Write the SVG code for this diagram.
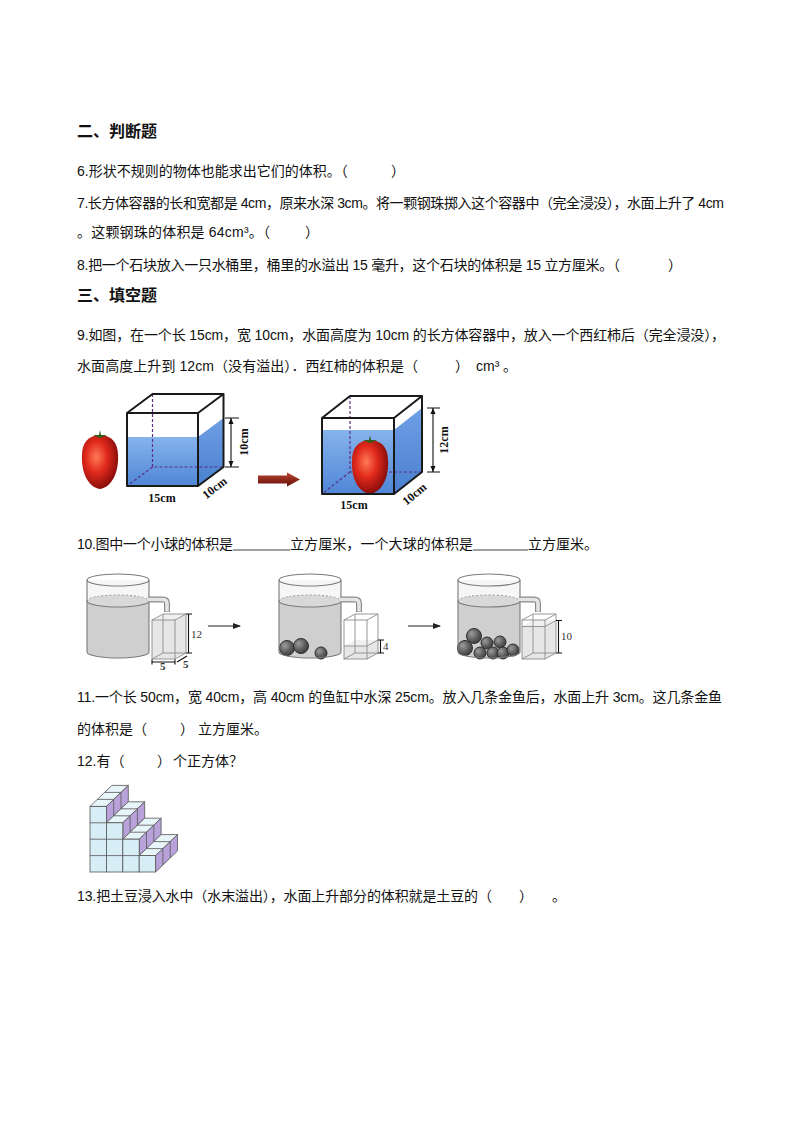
<svg xmlns="http://www.w3.org/2000/svg" width="794" height="1123" viewBox="0 0 794 1123">
<style>
.t{font-family:"Liberation Sans","Noto Sans CJK SC",sans-serif;font-size:14px;fill:#111}
.h{font-family:"Liberation Sans","Noto Sans CJK SC",sans-serif;font-size:16px;font-weight:bold;fill:#111}
.lbl{font-family:"Liberation Serif",serif;font-weight:bold;font-size:12px;fill:#111}
.box{fill:none;stroke:#1a1a1a;stroke-width:2;stroke-linejoin:round}
.hid{fill:none;stroke:#5b2f80;stroke-width:1.2;stroke-dasharray:3 2}
.dim{stroke:#111;stroke-width:1.1;fill:none}
.cyl{stroke:#7a7a7a;stroke-width:1.1;fill:none}
.cyld{stroke:#9a9a9a;stroke-width:1;fill:none;stroke-dasharray:2 2}
.ball{fill:url(#ballg);stroke:#2e2e2e;stroke-width:1}
.cb{stroke:#8c8c8c;stroke-width:0.9;fill:none}
.cw{fill:#e6e6e6;stroke:none}
.n{font-family:"Liberation Serif",serif;font-size:11px;fill:#333}
.fr{fill:#d8eef6;stroke:#555;stroke-width:0.8}
.tp{fill:#e8f5f9;stroke:#555;stroke-width:0.8}
.sd{fill:#b9a2d9;stroke:#555;stroke-width:0.8}
.ln{stroke:#555;stroke-width:0.8;fill:none}
.ul{stroke:#808080;stroke-width:1.5}
.pipeo{fill:none;stroke:#8a8a8a;stroke-width:6}
.pipei{fill:none;stroke:#e4e4e4;stroke-width:3.6}
</style>
<defs>
<linearGradient id="wat" x1="0" y1="0" x2="0" y2="1"><stop offset="0" stop-color="#86b3ec"/><stop offset="1" stop-color="#4f86d6"/></linearGradient>
<linearGradient id="wats" x1="0" y1="0" x2="0" y2="1"><stop offset="0" stop-color="#6f9fe4"/><stop offset="1" stop-color="#4a80d0"/></linearGradient>
<radialGradient id="tom" cx="0.4" cy="0.4" r="0.65"><stop offset="0" stop-color="#ff7a55"/><stop offset="0.45" stop-color="#e12a1c"/><stop offset="1" stop-color="#7e0a08"/></radialGradient>
<linearGradient id="arr" x1="0" y1="0" x2="0" y2="1"><stop offset="0" stop-color="#b8452f"/><stop offset="1" stop-color="#650d08"/></linearGradient>
<radialGradient id="ballg" cx="0.35" cy="0.35" r="0.7"><stop offset="0" stop-color="#9c9c9c"/><stop offset="0.6" stop-color="#5e5e5e"/><stop offset="1" stop-color="#3e3e3e"/></radialGradient>
<marker id="ah" viewBox="0 0 8 6" refX="7" refY="3" markerWidth="8" markerHeight="6" markerUnits="userSpaceOnUse" orient="auto"><path d="M0,0 L8,3 L0,6 Z" fill="#222"/></marker>
</defs>
<rect width="794" height="1123" fill="#fff"/>

<g id="heading-2"><text class="h" x="77" y="136.5">二、判断题</text></g>
<g id="q6"><text class="t" x="77" y="175.5">6.形状不规则的物体也能求出它们的体积。（</text><text class="t" x="391" y="175.5">）</text></g>
<g id="q7"><text class="t" x="77" y="207.5" textLength="647" lengthAdjust="spacing">7.长方体容器的长和宽都是 4cm，原来水深 3cm。将一颗钢珠掷入这个容器中（完全浸没），水面上升了 4cm</text>
<text class="t" x="77" y="236.5" textLength="193" lengthAdjust="spacing">。这颗钢珠的体积是 64cm³。（</text><text class="t" x="305" y="236.5">）</text></g>
<g id="q8"><text class="t" x="77" y="269.5" textLength="543" lengthAdjust="spacing">8.把一个石块放入一只水桶里，桶里的水溢出 15 毫升，这个石块的体积是 15 立方厘米。（</text><text class="t" x="668" y="269.5">）</text></g>
<g id="heading-3"><text class="h" x="77" y="301">三、填空题</text></g>
<g id="q9"><text class="t" x="77" y="339.5" textLength="648" lengthAdjust="spacing">9.如图，在一个长 15cm，宽 10cm，水面高度为 10cm 的长方体容器中，放入一个西红柿后（完全浸没），</text>
<text class="t" x="77" y="370.5" textLength="341" lengthAdjust="spacing">水面高度上升到 12cm（没有溢出）．西红柿的体积是（</text><text class="t" x="455" y="370.5">）</text><text class="t" x="476" y="370.5">cm³</text><text class="t" x="503" y="370.5">。</text></g>

<g id="fig9">
 <g id="fig9-tomato">
  <path d="M100,436 C110,434 118,442 118,455 C119,470 113,487 100,489 C87,487 81,470 82,455 C82,442 90,434 100,436 Z" fill="url(#tom)"/>
  <path d="M100,438 l-7,-3 l6,0 l1,-5 l1,5 l6,0 z" fill="#2f5d1a"/>
 </g>
 <g id="fig9-box-before">
  <rect x="127" y="437" width="71" height="49" fill="url(#wat)"/>
  <path d="M198,437 L223.5,418 L223.5,467 L198,486 Z" fill="url(#wats)"/>
  <path class="hid" d="M152.5,394 V467 H223.5 M152.5,467 L127,486"/>
  <rect class="box" x="127" y="413" width="71" height="73"/>
  <path class="box" d="M127,413 L152.5,394 H223.5 L198,413 M223.5,394 V467 L198,486"/>
  <path class="dim" d="M231,418 V467 M225,418 H239 M225,467 H239"/>
  <path d="M231,418 l-2.5,6 h5 z M231,467 l-2.5,-6 h5 z" fill="#111"/>
  <text class="lbl" transform="translate(248,442) rotate(-90)" text-anchor="middle">10cm</text>
  <text class="lbl" x="162" y="502" text-anchor="middle">15cm</text>
  <text class="lbl" transform="translate(217,491) rotate(-38)" text-anchor="middle">10cm</text>
 </g>
 <g id="fig9-arrow"><path d="M258,475.5 H287 V472.5 L300,479.5 L287,486.5 V483.5 H258 Z" fill="url(#arr)"/></g>
 <g id="fig9-box-after">
  <rect x="322" y="430" width="72" height="64" fill="url(#wat)"/>
  <path d="M394,430 L422,408 L422,472 L394,494 Z" fill="url(#wats)"/>
  <path class="hid" d="M350,396 V472 H422 M350,472 L322,494"/>
  <path d="M370,441 C380,439 388,447 388,460 C389,476 383,492 370,494 C357,492 351,476 352,460 C352,447 360,439 370,441 Z" fill="url(#tom)"/>
  <path d="M370,443 l-7,-3 l6,0 l1,-5 l1,5 l6,0 z" fill="#2f5d1a"/>
  <rect class="box" x="322" y="418" width="72" height="76"/>
  <path class="box" d="M322,418 L350,396 H422 L394,418 M422,396 V472 L394,494"/>
  <path class="dim" d="M433,408 V472 M427,408 H440 M427,472 H440"/>
  <path d="M433,408 l-2.5,6 h5 z M433,472 l-2.5,-6 h5 z" fill="#111"/>
  <text class="lbl" transform="translate(448,440) rotate(-90)" text-anchor="middle">12cm</text>
  <text class="lbl" x="354" y="509" text-anchor="middle">15cm</text>
  <text class="lbl" transform="translate(417,497) rotate(-40)" text-anchor="middle">10cm</text>
 </g>
</g>

<g id="q10">
 <text class="t" x="77" y="548.5" textLength="156" lengthAdjust="spacing">10.图中一个小球的体积是</text>
 <line class="ul" x1="233" y1="550" x2="290" y2="550"/>
 <text class="t" x="290" y="548.5" textLength="183" lengthAdjust="spacing">立方厘米，一个大球的体积是</text>
 <line class="ul" x1="473" y1="550" x2="528" y2="550"/>
 <text class="t" x="528" y="548.5">立方厘米。</text>
</g>

<g id="fig10">
 <g id="fig10-cyl1">
  <path d="M87,580 V652 A31,6 0 0 0 149,652 V580 Z" fill="#f6f6f6"/>
  <path d="M87,601 A31,6 0 0 0 149,601 V652 A31,6 0 0 1 87,652 Z" fill="#cfcfcf"/>
  <ellipse cx="118" cy="601" rx="31" ry="6" fill="#d8d8d8"/>
  <path class="cyld" d="M87,601 A31,6 0 0 1 149,601"/>
  <path class="cyl" d="M87,601 A31,6 0 0 0 149,601" stroke="#a0a0a0"/>
  <ellipse class="cyl" cx="118" cy="580" rx="31" ry="6"/>
  <path class="cyl" d="M87,580 V652 A31,6 0 0 0 149,652 V580"/>
  <path class="pipeo" d="M148,599.5 H163 Q167,599.5 167,603.5 V612"/>
  <path class="pipei" d="M148,599.5 H163 Q167,599.5 167,603.5 V611.5"/>
 </g>
 <g id="fig10-box1">
  <path class="cw" d="M152,620 L163,614 H186 V653 L175,659 H152 Z"/>
  <path d="M152,620 L163,614 H186 L175,620 Z" fill="#f0f0f0"/>
  <path class="cb" d="M163,614 V653 H186 M163,653 L152,659"/>
  <rect class="cb" x="152" y="620" width="23" height="39"/>
  <path class="cb" d="M152,620 L163,614 H186 L175,620 M186,614 V653 L175,659"/>
  <path class="dim" d="M188.5,614 V653 M186,614 H192 M186,653 H192" stroke="#444" stroke-width="0.8"/>
  <text class="n" x="191" y="637.5">12</text>
  <path class="dim" d="M152,662 H175 M152,659.5 V664.5 M175,659.5 V664.5" stroke="#444" stroke-width="0.8"/>
  <text class="n" x="160" y="670" font-weight="bold">5</text>
  <path class="dim" d="M177,662 L187,656" stroke="#444" stroke-width="0.8"/>
  <text class="n" x="183" y="668" font-weight="bold">5</text>
 </g>
 <g id="fig10-arrow1"><line x1="208" y1="626" x2="240" y2="626" stroke="#222" stroke-width="1" marker-end="url(#ah)"/></g>

 <g id="fig10-cyl2">
  <path d="M279,580 V652 A31,6 0 0 0 341,652 V580 Z" fill="#f6f6f6"/>
  <path d="M279,601 A31,6 0 0 0 341,601 V652 A31,6 0 0 1 279,652 Z" fill="#cfcfcf"/>
  <ellipse cx="310" cy="601" rx="31" ry="6" fill="#d8d8d8"/>
  <path class="cyld" d="M279,601 A31,6 0 0 1 341,601"/>
  <path class="cyl" d="M279,601 A31,6 0 0 0 341,601" stroke="#a0a0a0"/>
  <circle class="ball" cx="287" cy="648" r="7.5"/>
  <circle class="ball" cx="301" cy="646" r="7.5"/>
  <circle class="ball" cx="321" cy="653" r="6"/>
  <ellipse class="cyl" cx="310" cy="580" rx="31" ry="6"/>
  <path class="cyl" d="M279,580 V652 A31,6 0 0 0 341,652 V580"/>
  <path class="pipeo" d="M340,599.5 H355 Q359,599.5 359,603.5 V612"/>
  <path class="pipei" d="M340,599.5 H355 Q359,599.5 359,603.5 V611.5"/>
 </g>
 <g id="fig10-box2">
  <path class="cw" d="M344,646 L355,640 H378 V653 L367,659 H344 Z"/>
  <path d="M344,646 L355,640 H378 L367,646 Z" fill="#f0f0f0"/>
  <path class="cb" d="M355,614 V653 H378 M355,653 L344,659"/>
  <rect class="cb" x="344" y="620" width="23" height="39"/>
  <path class="cb" d="M344,620 L355,614 H378 L367,620 M378,614 V653 L367,659 M344,646 H367 L378,640"/>
  <path class="dim" d="M380.5,640 V653 M378,640 H384 M378,653 H384" stroke="#444" stroke-width="0.8"/>
  <text class="n" x="383" y="650">4</text>
 </g>
 <g id="fig10-arrow2"><line x1="408" y1="626" x2="440" y2="626" stroke="#222" stroke-width="1" marker-end="url(#ah)"/></g>

 <g id="fig10-cyl3">
  <path d="M458,580 V652 A31,6 0 0 0 520,652 V580 Z" fill="#f6f6f6"/>
  <path d="M458,601 A31,6 0 0 0 520,601 V652 A31,6 0 0 1 458,652 Z" fill="#cfcfcf"/>
  <ellipse cx="489" cy="601" rx="31" ry="6" fill="#d8d8d8"/>
  <path class="cyld" d="M458,601 A31,6 0 0 1 520,601"/>
  <path class="cyl" d="M458,601 A31,6 0 0 0 520,601" stroke="#a0a0a0"/>
  <circle class="ball" cx="474" cy="636" r="7.5"/>
  <circle class="ball" cx="487" cy="643" r="6"/>
  <circle class="ball" cx="500" cy="642" r="6"/>
  <circle class="ball" cx="465" cy="648" r="7.5"/>
  <circle class="ball" cx="480" cy="653" r="6"/>
  <circle class="ball" cx="493" cy="653" r="6"/>
  <circle class="ball" cx="503" cy="653" r="6"/>
  <circle class="ball" cx="513" cy="650" r="6"/>
  <ellipse class="cyl" cx="489" cy="580" rx="31" ry="6"/>
  <path class="cyl" d="M458,580 V652 A31,6 0 0 0 520,652 V580"/>
  <path class="pipeo" d="M519,599.5 H534 Q538,599.5 538,603.5 V612"/>
  <path class="pipei" d="M519,599.5 H534 Q538,599.5 538,603.5 V611.5"/>
 </g>
 <g id="fig10-box3">
  <path class="cw" d="M522,626.5 L533,620.5 H556 V653 L545,659 H522 Z"/>
  <path d="M522,626.5 L533,620.5 H556 L545,626.5 Z" fill="#f0f0f0"/>
  <path class="cb" d="M533,614 V653 H556 M533,653 L522,659"/>
  <rect class="cb" x="522" y="620" width="23" height="39"/>
  <path class="cb" d="M522,620 L533,614 H556 L545,620 M556,614 V653 L545,659 M522,626.5 H545 L556,620.5"/>
  <path class="dim" d="M558.5,620.5 V653 M556,620.5 H562 M556,653 H562" stroke="#444" stroke-width="0.8"/>
  <text class="n" x="561" y="640">10</text>
 </g>
</g>

<g id="q11">
 <text class="t" x="77" y="701.5" textLength="645" lengthAdjust="spacing">11.一个长 50cm，宽 40cm，高 40cm 的鱼缸中水深 25cm。放入几条金鱼后，水面上升 3cm。这几条金鱼</text>
 <text class="t" x="77" y="733.5">的体积是（</text><text class="t" x="180" y="733.5">）</text><text class="t" x="198" y="733.5">立方厘米。</text>
</g>
<g id="q12">
 <text class="t" x="77" y="765.5">12.有（</text><text class="t" x="157" y="765.5">）</text><text class="t" x="173" y="765.5">个正方体？</text>
</g>

<g id="fig12">
 <g id="col0">
  <path class="tp" d="M90,806.4 H106.4 L128.3,785.4 H111.9 Z"/>
  <path class="ln" d="M97.3,799.4 H113.7 M104.6,792.4 H121"/>
  <path class="sd" d="M106.4,806.4 L128.3,785.4 V801.8 L106.4,822.8 Z"/>
  <path class="ln" d="M113.7,799.4 V815.8 M121,792.4 V808.8"/>
  <rect class="fr" x="90" y="806.4" width="16.4" height="65.6"/>
  <path class="ln" d="M90,822.8 H106.4 M90,839.2 H106.4 M90,855.6 H106.4"/>
 </g>
 <g id="col1">
  <path class="tp" d="M106.4,822.8 H122.8 L144.7,801.8 H128.3 Z"/>
  <path class="ln" d="M113.7,815.8 H130.1 M121,808.8 H137.4"/>
  <path class="sd" d="M122.8,822.8 L144.7,801.8 V818.2 L122.8,839.2 Z"/>
  <path class="ln" d="M130.1,815.8 V832.2 M137.4,808.8 V825.2"/>
  <rect class="fr" x="106.4" y="822.8" width="16.4" height="49.2"/>
  <path class="ln" d="M106.4,839.2 H122.8 M106.4,855.6 H122.8"/>
 </g>
 <g id="col2">
  <path class="tp" d="M122.8,839.2 H139.2 L161.1,818.2 H144.7 Z"/>
  <path class="ln" d="M130.1,832.2 H146.5 M137.4,825.2 H153.8"/>
  <path class="sd" d="M139.2,839.2 L161.1,818.2 V834.6 L139.2,855.6 Z"/>
  <path class="ln" d="M146.5,832.2 V848.6 M153.8,825.2 V841.6"/>
  <rect class="fr" x="122.8" y="839.2" width="16.4" height="32.8"/>
  <path class="ln" d="M122.8,855.6 H139.2"/>
 </g>
 <g id="col3">
  <path class="tp" d="M139.2,855.6 H155.6 L177.5,834.6 H161.1 Z"/>
  <path class="ln" d="M146.5,848.6 H162.9 M153.8,841.6 H170.2"/>
  <path class="sd" d="M155.6,855.6 L177.5,834.6 V851 L155.6,872 Z"/>
  <path class="ln" d="M162.9,848.6 V865 M170.2,841.6 V858"/>
  <rect class="fr" x="139.2" y="855.6" width="16.4" height="16.4"/>
 </g>
</g>

<g id="q13">
 <text class="t" x="77" y="900.5" textLength="415" lengthAdjust="spacing">13.把土豆浸入水中（水末溢出），水面上升部分的体积就是土豆的（</text>
 <text class="t" x="519" y="900.5">）</text><text class="t" x="552" y="900.5">。</text>
</g>
</svg>
